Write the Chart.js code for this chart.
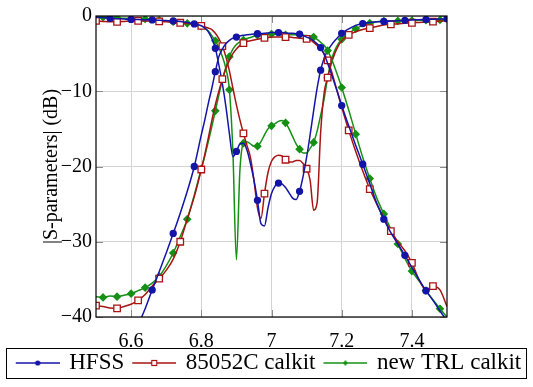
<!DOCTYPE html>
<html>
<head>
<meta charset="utf-8">
<script src="https://cdn.jsdelivr.net/npm/chart.js@4.4.1/dist/chart.umd.min.js"></script>
<style>
  html, body { margin: 0; padding: 0; background: #fff; }
  #wrap { width: 533px; height: 387px; }
</style>
</head>
<body>
<div id="wrap"><canvas id="chart" width="533" height="387"></canvas></div>
<script>
// frequency grid (GHz), shared by all curves
const freq = [
  6.50, 6.52, 6.54, 6.56, 6.58, 6.60, 6.62, 6.64, 6.66, 6.68, 6.70, 6.72, 6.74, 6.76, 6.78,
  6.80, 6.81, 6.82, 6.83, 6.84, 6.85, 6.86, 6.87, 6.88, 6.89,
  6.90, 6.91, 6.92, 6.93, 6.94, 6.95, 6.96, 6.97, 6.98, 6.99,
  7.00, 7.01, 7.02, 7.03, 7.04, 7.05, 7.06, 7.07, 7.08, 7.09,
  7.10, 7.11, 7.12, 7.13, 7.14, 7.15, 7.16, 7.17, 7.18, 7.19,
  7.20, 7.22, 7.24, 7.26, 7.28, 7.30, 7.32, 7.34, 7.36, 7.38,
  7.40, 7.42, 7.44, 7.46, 7.48, 7.50
];

// HFSS
const hfssS21 = [
  -50, -48, -46.5, -45, -44, -42.6, -41, -38.9, -36.4, -34, -31.5, -28.9, -26.2, -23.3, -20,
  -15.8, -13.8, -11.6, -9.6, -7.4, -5.4, -4.4, -3.7, -3.25, -2.95,
  -2.8, -2.65, -2.55, -2.5, -2.45, -2.4, -2.36, -2.33, -2.3, -2.25,
  -2.2, -2.2, -2.2, -2.2, -2.25, -2.3, -2.3, -2.35, -2.4, -2.6,
  -2.8, -3.0, -3.3, -3.7, -4.2, -5.1, -6.3, -7.6, -9.0, -10.4,
  -11.9, -14.6, -17.2, -19.7, -22.3, -24.9, -27.0, -28.8, -30.3, -31.8,
  -33.4, -35.0, -36.5, -37.8, -39.2, -40.5
];
const hfssS11 = [
  -0.15, -0.2, -0.3, -0.35, -0.4, -0.45, -0.47, -0.5, -0.52, -0.55, -0.6, -0.65, -0.72, -0.85, -1.05,
  -1.3, -1.6, -2.1, -3.0, -4.3, -6.5, -9.0, -12.0, -15.6, -18.7,
  -18.0, -17.0, -16.9, -17.8, -19.6, -21.8, -24.5, -27.6, -27.9, -25.5,
  -23.6, -22.6, -22.2, -22.3, -22.8, -23.5, -24.2, -24.4, -23.3, -21.3,
  -18.8, -15.8, -12.6, -9.6, -7.2, -5.6, -4.6, -3.9, -3.3, -2.8,
  -2.3, -1.7, -1.25, -1.0, -0.85, -0.78, -0.72, -0.67, -0.63, -0.58,
  -0.53, -0.5, -0.46, -0.43, -0.4, -0.38
];

// 85052C calkit
const calS21 = [
  -38.5, -38.6, -38.8, -38.85, -38.6, -38.3, -37.8, -37.0, -35.9, -34.9, -33.8, -32.3, -30.0, -27.0, -24.0,
  -20.4, -18.4, -16.2, -13.9, -11.8, -10.0, -8.4, -7.0, -5.9, -5.0,
  -4.4, -3.9, -3.6, -3.4, -3.3, -3.2, -3.1, -3.0, -2.9, -2.85,
  -2.8, -2.8, -2.8, -2.8, -2.8, -2.8, -2.85, -2.9, -2.95, -3.0,
  -3.05, -3.2, -3.5, -3.9, -4.4, -5.0, -5.9, -7.2, -8.8, -10.5,
  -12.1, -15.2, -18.0, -20.6, -23.0, -25.0, -26.8, -28.6, -30.0, -31.2,
  -32.8, -35.0, -36.4, -35.9, -36.4, -38.6
];
const calS11 = [
  -0.65, -0.72, -0.78, -0.78, -0.72, -0.66, -0.65, -0.66, -0.68, -0.72, -0.77, -0.82, -0.9, -1.0, -1.1,
  -1.3, -1.45, -1.6, -1.8, -2.3, -3.0, -4.0, -5.4, -7.3, -9.6,
  -11.8, -13.8, -15.6, -17.2, -18.8, -21.8, -25.5, -26.9, -23.6, -20.8,
  -19.3, -18.7, -18.5, -18.6, -19.1, -19.4, -19.4, -19.2, -19.2, -19.6,
  -20.3, -21.8, -25.8, -24.8, -15.5, -10.2, -8.2, -6.4, -5.0, -4.0,
  -3.3, -2.5, -2.1, -1.8, -1.6, -1.4, -1.2, -1.1, -1.05, -0.97,
  -0.9, -0.85, -0.8, -0.75, -0.68, -0.65
];

// new TRL calkit
const trlS21 = [
  -37.3, -37.4, -37.2, -37.3, -37.1, -36.9, -36.5, -36.1, -35.5, -34.6, -33.2, -31.5, -29.3, -27.0, -23.8,
  -20.3, -18.6, -16.7, -14.7, -12.6, -10.5, -8.5, -6.8, -5.4, -4.4,
  -3.8, -3.45, -3.2, -3.0, -2.85, -2.7, -2.55, -2.5, -2.45, -2.4,
  -2.4, -2.4, -2.45, -2.5, -2.5, -2.5, -2.5, -2.5, -2.5, -2.55,
  -2.6, -2.65, -2.8, -3.1, -3.5, -3.9, -4.6, -5.6, -6.8, -8.1,
  -9.5, -12.5, -15.7, -18.8, -21.6, -24.2, -26.3, -28.3, -30.3, -32.2,
  -33.9, -35.2, -36.5, -37.7, -38.9, -40.0
];
const trlS11 = [
  -0.1, -0.15, -0.2, -0.25, -0.3, -0.33, -0.35, -0.4, -0.47, -0.55, -0.65, -0.77, -0.9, -0.98, -1.05,
  -1.35, -1.6, -2.0, -2.6, -3.3, -4.2, -5.4, -7.0, -9.8, -18.0,
  -32.4, -20.5, -16.9, -16.7, -17.0, -17.3, -17.3, -16.7, -15.8, -15.0,
  -14.6, -14.3, -14.0, -13.9, -14.2, -15.0, -16.0, -17.0, -17.7, -18.2,
  -18.2, -17.6, -16.8, -15.3, -13.2, -11.0, -8.2, -6.0, -4.6, -3.7,
  -3.1, -2.3, -1.7, -1.25, -0.95, -0.75, -0.68, -0.66, -0.65, -0.64,
  -0.62, -0.58, -0.55, -0.53, -0.52, -0.5
];

const seriesNames = ['HFSS', '85052C calkit', 'new TRL calkit'];
const xTicks = [6.6, 6.8, 7, 7.2, 7.4];
const yTicks = [0, -10, -20, -30, -40];

const BLUE = '#1414a8';
const RED = '#a81414';
const GREEN = '#159015';
const SERIF = "'Liberation Serif', 'Times New Roman', serif";

function pts(vals) {
  return vals.map((v, i) => ({ x: freq[i], y: v }));
}

// show a marker every `step` hundredths of a GHz
function markEvery(step, off, r) {
  return ctx => {
    const k = Math.round(freq[ctx.dataIndex] * 100) - off;
    return k % step === 0 ? r : 0;
  };
}

const styles = [
  { color: BLUE, pointStyle: 'circle', radius: markEvery(6, 0, 3), fill: BLUE },
  { color: RED, pointStyle: 'rect', radius: markEvery(6, 2, 4.6), fill: '#fff' },
  { color: GREEN, pointStyle: 'rectRot', radius: markEvery(4, 0, 3.4), fill: GREEN }
];

function mkSet(vals, s) {
  return {
    data: pts(vals),
    borderColor: s.color,
    borderWidth: 1.5,
    cubicInterpolationMode: 'monotone',
    pointStyle: s.pointStyle,
    pointRadius: s.radius,
    pointBackgroundColor: s.fill,
    pointBorderColor: s.color,
    pointBorderWidth: 1.3,
    pointHoverRadius: 0
  };
}

// small line+marker pictures for the legend entries (blank margin on the left)
function sample(s) {
  const c = document.createElement('canvas');
  c.width = 50; c.height = 12;
  const g = c.getContext('2d');
  g.strokeStyle = s.color;
  g.lineWidth = 1.5;
  g.beginPath(); g.moveTo(6, 6); g.lineTo(50, 6); g.stroke();
  g.fillStyle = s.fill;
  g.lineWidth = 1.2;
  if (s.pointStyle === 'circle') {
    g.beginPath(); g.arc(28, 6, 2.6, 0, Math.PI * 2); g.fill();
  } else if (s.pointStyle === 'rect') {
    g.fillRect(25.5, 3.5, 5, 5); g.strokeRect(25.5, 3.5, 5, 5);
  } else {
    g.beginPath(); g.moveTo(28, 3); g.lineTo(30.2, 6); g.lineTo(28, 9); g.lineTo(25.8, 6); g.closePath(); g.fill();
  }
  return c;
}

const framePlugin = {
  id: 'frame',
  beforeDatasetsDraw(chart) {
    const { ctx, chartArea: a, scales: { x, y } } = chart;
    ctx.save();
    ctx.strokeStyle = '#8c8c8c';
    ctx.lineWidth = 1;
    ctx.beginPath();
    x.ticks.forEach(t => {
      const px = Math.round(x.getPixelForValue(t.value)) + 0.5;
      ctx.moveTo(px, a.bottom); ctx.lineTo(px, a.bottom - 7);
      ctx.moveTo(px, a.top); ctx.lineTo(px, a.top + 7);
    });
    y.ticks.forEach(t => {
      const py = Math.round(y.getPixelForValue(t.value)) + 0.5;
      ctx.moveTo(a.left, py); ctx.lineTo(a.left + 7, py);
      ctx.moveTo(a.right, py); ctx.lineTo(a.right - 7, py);
    });
    ctx.stroke();
    ctx.restore();
  },
  afterDatasetsDraw(chart) {
    const { ctx, chartArea: a } = chart;
    ctx.save();
    ctx.strokeStyle = '#000';
    ctx.lineWidth = 1.2;
    ctx.strokeRect(a.left, a.top, a.right - a.left, a.bottom - a.top);
    ctx.restore();
  },
  afterDraw(chart) {
    const lg = chart.legend;
    const pad = lg.options.labels.padding;
    const fs = lg.options.labels.font.size;
    const cy = lg.top + pad + fs / 2;
    const ctx = chart.ctx;
    ctx.save();
    ctx.strokeStyle = '#000';
    ctx.lineWidth = 1;
    ctx.strokeRect(6.5, Math.round(cy - 15) + 0.5, 520, 30);
    ctx.restore();
  }
};

new Chart(document.getElementById('chart'), {
  type: 'line',
  data: {
    datasets: [
      mkSet(hfssS21, styles[0]),
      mkSet(calS21, styles[1]),
      mkSet(trlS21, styles[2]),
      mkSet(hfssS11, styles[0]),
      mkSet(calS11, styles[1]),
      mkSet(trlS11, styles[2])
    ]
  },
  options: {
    responsive: false,
    animation: false,
    layout: { padding: { left: 0, right: 0, top: 15, bottom: 2.5 } },
    plugins: {
      tooltip: { enabled: false },
      legend: {
        position: 'bottom',
        labels: {
          usePointStyle: true,
          pointStyleWidth: 46,
          padding: 4,
          color: '#000',
          font: { family: SERIF, size: 23 },
          generateLabels: () => seriesNames.map((n, i) => ({
            text: n,
            datasetIndex: i,
            pointStyle: sample(styles[i]),
            fillStyle: 'rgba(0,0,0,0)',
            strokeStyle: 'rgba(0,0,0,0)',
            lineWidth: 0,
            fontColor: '#000',
            hidden: false
          }))
        }
      }
    },
    scales: {
      x: {
        type: 'linear',
        min: 6.5, max: 7.5,
        afterBuildTicks: s => { s.ticks = xTicks.map(v => ({ value: v })); },
        afterFit: s => { s.height = 30.5; },
        grid: { color: '#d4d4d4', drawTicks: false },
        border: { display: false },
        ticks: {
          padding: 13,
          color: '#000',
          maxRotation: 0,
          font: { family: SERIF, size: 20 },
          callback: v => String(+v.toFixed(1))
        }
      },
      y: {
        type: 'linear',
        position: 'left',
        min: -40, max: 0,
        afterBuildTicks: s => { s.ticks = yTicks.map(v => ({ value: v })); },
        afterFit: s => { s.width = 96; },
        grid: { color: '#d4d4d4', drawTicks: false },
        border: { display: false },
        title: {
          display: true,
          text: '|S-parameters| (dB)',
          color: '#000',
          font: { family: SERIF, size: 20 },
          padding: { top: 40, bottom: 0 }
        },
        ticks: {
          padding: 4,
          color: '#000',
          font: { family: SERIF, size: 20 },
          callback: v => v < 0 ? '\u2212' + Math.abs(v) : String(v)
        }
      },
      yR: {
        type: 'linear',
        position: 'right',
        afterFit: s => { s.width = 86; },
        grid: { display: false, drawTicks: false },
        border: { display: false },
        ticks: { display: false }
      }
    }
  },
  plugins: [framePlugin]
});
</script>
</body>
</html>
